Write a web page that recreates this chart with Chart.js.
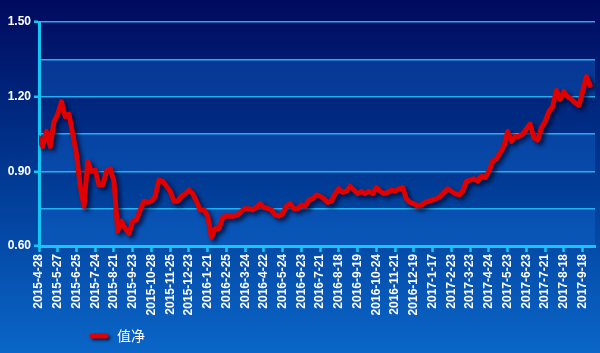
<!DOCTYPE html>
<html>
<head>
<meta charset="utf-8">
<script src="https://cdn.jsdelivr.net/npm/chart.js@4/dist/chart.umd.min.js"></script>
<style>
  html, body { margin: 0; padding: 0; background: #00307f; }
  canvas { display: block; }
</style>
</head>
<body>
<canvas id="nav" width="600" height="353"></canvas>
<script>
// tick labels, one every 5 samples
const tickLabels = [
    '2015-4-28', '2015-5-27', '2015-6-25', '2015-7-24', '2015-8-21', '2015-9-23',
    '2015-10-28', '2015-11-25', '2015-12-23', '2016-1-21', '2016-2-25', '2016-3-24',
    '2016-4-22', '2016-5-24', '2016-6-23', '2016-7-21', '2016-8-18', '2016-9-19',
    '2016-10-24', '2016-11-21', '2016-12-19', '2017-1-17', '2017-2-23', '2017-3-23',
    '2017-4-24', '2017-5-23', '2017-6-23', '2017-7-21', '2017-8-18', '2017-9-18'
];
const SAMPLES_PER_TICK = 5;

// net value
const navValues = [
    1.035, 1.00, 1.06, 1.00, 1.10, 1.13, 1.18, 1.12, 1.13, 1.05,
    0.97, 0.84, 0.76, 0.94, 0.90, 0.905, 0.845, 0.845, 0.90, 0.91,
    0.86, 0.66, 0.70, 0.67, 0.65, 0.70, 0.705, 0.745, 0.78, 0.775,
    0.78, 0.80, 0.865, 0.86, 0.84, 0.82, 0.78, 0.78, 0.80, 0.81,
    0.825, 0.81, 0.78, 0.745, 0.745, 0.72, 0.635, 0.67, 0.67, 0.715,
    0.72, 0.72, 0.72, 0.725, 0.74, 0.75, 0.75, 0.745, 0.755, 0.77,
    0.755, 0.75, 0.745, 0.725, 0.72, 0.73, 0.76, 0.77, 0.75, 0.75,
    0.765, 0.76, 0.785, 0.79, 0.805, 0.80, 0.79, 0.775, 0.78, 0.81,
    0.83, 0.815, 0.82, 0.84, 0.825, 0.81, 0.82, 0.81, 0.82, 0.81,
    0.835, 0.82, 0.81, 0.815, 0.825, 0.82, 0.83, 0.835, 0.79, 0.775,
    0.77, 0.76, 0.765, 0.775, 0.78, 0.785, 0.79, 0.80, 0.815, 0.83,
    0.82, 0.81, 0.805, 0.82, 0.86, 0.865, 0.87, 0.86, 0.88, 0.875,
    0.90, 0.94, 0.95, 0.975, 1.00, 1.06, 1.02, 1.04, 1.04, 1.05,
    1.07, 1.09, 1.035, 1.025, 1.075, 1.10, 1.14, 1.16, 1.225, 1.19,
    1.22, 1.20, 1.19, 1.175, 1.165, 1.22, 1.28, 1.245
];

const yTicks = [0.60, 0.75, 0.90, 1.05, 1.20, 1.35, 1.50];
const CYAN = '#12c6f6';
const isLabelled = v => Math.round(v * 100) % 30 === 0;

const backdrop = {
    id: 'backdrop',
    beforeDraw(chart) {
        const { ctx, width, height, chartArea: a, scales: { y } } = chart;
        ctx.save();
        const g = ctx.createLinearGradient(0, 0, 0, height);
        g.addColorStop(0, '#000a5e');
        g.addColorStop(0.45, '#00358e');
        g.addColorStop(1, '#0a66c8');
        ctx.fillStyle = g;
        ctx.fillRect(0, 0, width, height);
        // lighter alternate bands
        for (let i = 0; i < yTicks.length - 1; i++) {
            if (i % 2 !== 0) continue;
            const top = y.getPixelForValue(yTicks[i + 1]);
            const bot = y.getPixelForValue(yTicks[i]);
            ctx.fillStyle = 'rgba(20, 110, 215, 0.35)';
            ctx.fillRect(a.left, top, a.right - a.left, bot - top);
        }
        ctx.restore();
    }
};

const lineShadow = {
    id: 'lineShadow',
    beforeDatasetsDraw(chart) {
        const ctx = chart.ctx;
        ctx.save();
        ctx.shadowColor = 'rgba(0, 5, 40, 0.75)';
        ctx.shadowBlur = 4;
        ctx.shadowOffsetX = 3;
        ctx.shadowOffsetY = 3;
    },
    afterDatasetsDraw(chart) {
        chart.ctx.restore();
    }
};

// legend drawn by hand so it can sit where the original has it
const sideLegend = {
    id: 'sideLegend',
    afterDraw(chart) {
        const ctx = chart.ctx;
        const ds = chart.data.datasets[0];
        const cy = 336;
        ctx.save();
        ctx.shadowColor = 'rgba(0, 5, 40, 0.75)';
        ctx.shadowBlur = 3;
        ctx.shadowOffsetX = 2;
        ctx.shadowOffsetY = 2;
        ctx.strokeStyle = ds.borderColor;
        ctx.lineWidth = 5;
        ctx.lineCap = 'round';
        ctx.beginPath();
        ctx.moveTo(92, cy);
        ctx.lineTo(106, cy);
        ctx.stroke();
        ctx.restore();
        ctx.save();
        ctx.fillStyle = '#ffffff';
        ctx.font = '14px "Noto Sans CJK SC", sans-serif';
        ctx.textBaseline = 'middle';
        ctx.fillText(ds.label, 117, cy);
        ctx.restore();
    }
};

new Chart(document.getElementById('nav'), {
    type: 'line',
    data: {
        datasets: [{
            label: '值净',
            data: navValues.map((v, i) => ({ x: i, y: v })),
            borderColor: '#e00000',
            borderWidth: 5,
            borderJoinStyle: 'round',
            borderCapStyle: 'round',
            pointRadius: 0,
            tension: 0
        }]
    },
    options: {
        responsive: false,
        animation: false,
        devicePixelRatio: 1,
        layout: { padding: { top: 22, right: 5, left: 0, bottom: 0 } },
        plugins: { legend: { display: false }, tooltip: { enabled: false } },
        scales: {
            x: {
                type: 'linear',
                min: 0,
                max: 148.3,
                afterBuildTicks: s => { s.ticks = tickLabels.map((_, i) => ({ value: i * SAMPLES_PER_TICK })); },
                afterFit: s => { s.height = 107; },
                ticks: {
                    autoSkip: false,
                    minRotation: 90,
                    maxRotation: 90,
                    padding: 2,
                    color: '#ffffff',
                    font: { family: '"Liberation Sans", Arial, sans-serif', size: 12, weight: 'bold' },
                    callback: v => tickLabels[Math.round(v / SAMPLES_PER_TICK)]
                },
                grid: { drawOnChartArea: false, tickLength: 6, tickColor: CYAN, tickWidth: 2.5 },
                border: { color: CYAN, width: 3 }
            },
            y: {
                min: 0.6,
                max: 1.5,
                afterBuildTicks: s => { s.ticks = yTicks.map(v => ({ value: v })); },
                afterFit: s => { s.width = 39; },
                ticks: {
                    padding: 3,
                    color: '#ffffff',
                    font: { family: '"Liberation Sans", Arial, sans-serif', size: 12, weight: 'bold' },
                    callback: v => isLabelled(v) ? v.toFixed(2) : ''
                },
                grid: {
                    color: 'rgba(40, 190, 250, 0.9)',
                    lineWidth: 1.5,
                    tickLength: 5,
                    tickWidth: 2.5,
                    tickColor: c => (c.tick && isLabelled(c.tick.value)) ? CYAN : 'rgba(0,0,0,0)'
                },
                border: { color: CYAN, width: 3 }
            }
        }
    },
    plugins: [backdrop, lineShadow, sideLegend]
});
</script>
</body>
</html>
